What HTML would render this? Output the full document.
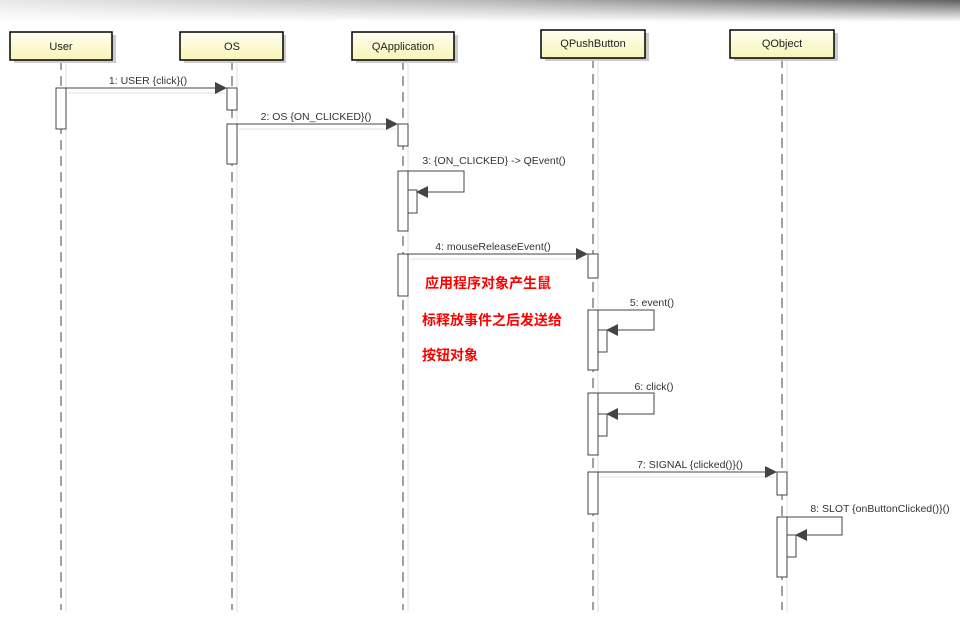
<!DOCTYPE html>
<html><head><meta charset="utf-8"><style>body{margin:0;background:#fff}svg{display:block}</style></head><body>
<svg width="960" height="617" xmlns="http://www.w3.org/2000/svg" font-family="Liberation Sans, sans-serif">
<defs>
<linearGradient id="tb" x1="0" x2="1" y1="0" y2="0"><stop offset="0" stop-color="#e8e8e8"/><stop offset="0.5" stop-color="#b8b8b8"/><stop offset="1" stop-color="#606060"/></linearGradient>
<linearGradient id="tbv" x1="0" x2="0" y1="0" y2="1"><stop offset="0" stop-color="#fff" stop-opacity="0"/><stop offset="1" stop-color="#fff" stop-opacity="1"/></linearGradient>
<linearGradient id="hd" x1="0" x2="0" y1="0" y2="1"><stop offset="0" stop-color="#fffff0"/><stop offset="1" stop-color="#f8f4b8"/></linearGradient>
</defs>
<rect x="0" y="0" width="960" height="22" fill="url(#tb)"/>
<rect x="0" y="0" width="960" height="22" fill="url(#tbv)"/>
<g stroke="#e2e2e2" stroke-width="1">
<line x1="66" y1="62" x2="66" y2="612"/><line x1="237" y1="62" x2="237" y2="612"/><line x1="408" y1="62" x2="408" y2="612"/><line x1="598" y1="60" x2="598" y2="612"/><line x1="787" y1="60" x2="787" y2="612"/>
</g>
<g stroke="#444" stroke-width="1" stroke-dasharray="10,6">
<line x1="61" y1="60" x2="61" y2="610"/><line x1="232" y1="60" x2="232" y2="610"/><line x1="403" y1="60" x2="403" y2="610"/><line x1="593" y1="58" x2="593" y2="610"/><line x1="782" y1="58" x2="782" y2="610"/>
</g>
<g fill="#ccc"><rect x="14" y="35" width="102" height="28"/><rect x="184" y="35" width="102" height="28"/><rect x="356" y="35" width="102" height="28"/><rect x="545" y="33" width="104" height="28"/><rect x="734" y="33" width="104" height="28"/></g>
<g fill="url(#hd)" stroke="#000" stroke-width="1.5">
<rect x="10" y="32" width="102" height="28"/><rect x="180" y="32" width="103" height="28"/><rect x="352" y="32" width="102" height="28"/><rect x="541" y="30" width="104" height="28"/><rect x="730" y="30" width="104" height="28"/></g>
<g font-size="11" text-anchor="middle" fill="#222">
<text x="61" y="50">User</text><text x="232" y="50">OS</text><text x="403" y="50">QApplication</text><text x="593" y="47">QPushButton</text><text x="782" y="47">QObject</text></g>
<g stroke="#e2e2e2" fill="none" stroke-width="1">
<line x1="68" y1="93" x2="225" y2="93"/><line x1="239" y1="129" x2="396" y2="129"/><line x1="410" y1="259" x2="586" y2="259"/><line x1="600" y1="477" x2="775" y2="477"/>
</g>
<g fill="#fff" stroke="#444" stroke-width="1">
<rect x="56" y="88" width="10" height="41"/>
<rect x="227" y="88" width="10" height="22"/><rect x="227" y="124" width="10" height="40"/>
<rect x="398" y="124" width="10" height="22"/><rect x="398" y="171" width="10" height="60"/><rect x="408" y="190" width="9" height="23"/>
<rect x="398" y="254" width="10" height="42"/>
<rect x="588" y="254" width="10" height="24"/><rect x="588" y="310" width="10" height="60"/><rect x="598" y="330" width="9" height="22"/>
<rect x="588" y="393" width="10" height="62"/><rect x="598" y="414" width="9" height="22"/>
<rect x="588" y="472" width="10" height="42"/>
<rect x="777" y="472" width="10" height="23"/><rect x="777" y="517" width="10" height="60"/><rect x="787" y="535" width="9" height="22"/>
</g>
<g stroke="#444" fill="none" stroke-width="1">
<line x1="66" y1="88" x2="215" y2="88"/><line x1="237" y1="124" x2="386" y2="124"/><line x1="408" y1="254" x2="576" y2="254"/><line x1="598" y1="472" x2="765" y2="472"/>
<polyline points="408,171 464,171 464,192 428,192"/><polyline points="598,310 654,310 654,330 618,330"/><polyline points="598,393 654,393 654,414 618,414"/><polyline points="787,517 842,517 842,535 807,535"/>
</g>
<g fill="#444">
<polygon points="215,82 227,88 215,94"/><polygon points="386,118 398,124 386,130"/><polygon points="576,248 588,254 576,260"/><polygon points="765,466 777,472 765,478"/>
<polygon points="428,186 416,192 428,198"/><polygon points="618,324 606,330 618,336"/><polygon points="618,408 606,414 618,420"/><polygon points="807,529 795,535 807,541"/>
</g>
<g font-size="10.5" fill="#333" text-anchor="middle">
<text x="148" y="84">1: USER {click}()</text><text x="316" y="120">2: OS {ON_CLICKED}()</text><text x="494" y="164">3: {ON_CLICKED} -&gt; QEvent()</text>
<text x="493" y="250">4: mouseReleaseEvent()</text><text x="652" y="306">5: event()</text><text x="654" y="390">6: click()</text>
<text x="690" y="468">7: SIGNAL {clicked()}()</text><text x="880" y="512">8: SLOT {onButtonClicked()}()</text></g>
<g font-size="14" font-weight="bold" fill="#f00" font-family="Liberation Sans, Noto Sans CJK SC, sans-serif">
<text x="425" y="288">应用程序对象产生鼠</text><text x="422" y="325">标释放事件之后发送给</text><text x="422" y="360">按钮对象</text></g>
</svg>
</body></html>
